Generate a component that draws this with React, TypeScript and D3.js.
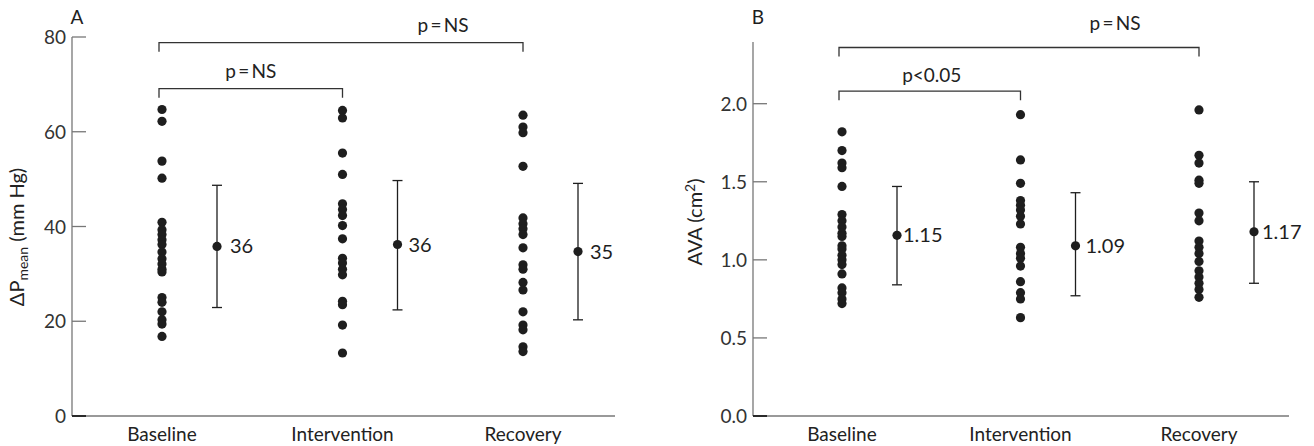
import React from "react";
import * as d3 from "d3";

const width = 1314;
const height = 446;

const categories = ["Baseline", "Intervention", "Recovery"];

// panel A: mean transvalvular gradient (mm Hg)
const gradBaseline = [64.7, 62.2, 53.8, 50.2, 40.9, 39.3, 38.3, 37.2, 36.2, 34.6, 33.2, 32.1, 31.0, 30.4, 25.0, 24.0, 22.0, 20.3, 19.4, 16.8];
const gradIntervention = [64.5, 62.9, 55.5, 51.0, 44.8, 43.6, 42.3, 40.2, 37.4, 33.3, 32.3, 31.0, 29.8, 24.2, 23.5, 19.2, 13.3];
const gradRecovery = [63.5, 61.0, 59.8, 52.7, 41.8, 40.6, 39.5, 38.3, 35.5, 31.9, 31.0, 28.2, 26.6, 22.0, 19.2, 18.2, 14.6, 13.6];
const gradMean = [35.8, 36.2, 34.7];
const gradLow = [22.9, 22.4, 20.3];
const gradHigh = [48.7, 49.7, 49.1];
const gradMeanLabels = ["36", "36", "35"];
const gradTicks = [0, 20, 40, 60, 80];

// panel B: aortic valve area (cm2)
const avaBaseline = [1.82, 1.7, 1.62, 1.59, 1.47, 1.29, 1.25, 1.21, 1.17, 1.15, 1.09, 1.07, 1.03, 1.0, 0.97, 0.91, 0.82, 0.79, 0.75, 0.72];
const avaIntervention = [1.93, 1.64, 1.49, 1.38, 1.35, 1.32, 1.28, 1.23, 1.08, 1.04, 1.01, 0.96, 0.86, 0.79, 0.75, 0.63];
const avaRecovery = [1.96, 1.67, 1.62, 1.51, 1.49, 1.3, 1.25, 1.12, 1.08, 1.04, 0.99, 0.93, 0.89, 0.85, 0.81, 0.76];
const avaMean = [1.157, 1.09, 1.18];
const avaLow = [0.84, 0.77, 0.85];
const avaHigh = [1.47, 1.43, 1.5];
const avaMeanLabels = ["1.15", "1.09", "1.17"];
const avaTicks = [0, 0.5, 1.0, 1.5, 2.0];

// significance brackets between categories
const gradBrackets = [
  { from: 0, to: 2, level: 78.8, label: "p\u2009=\u2009NS", labelDy: -11, shift: 102 },
  { from: 0, to: 1, level: 69.1, label: "p\u2009=\u2009NS", labelDy: -11, shift: 0 },
];
const avaBrackets = [
  { from: 0, to: 2, level: 2.36, label: "p\u2009=\u2009NS", labelDy: -17, shift: 96 },
  { from: 0, to: 1, level: 2.08, label: "p<0.05", labelDy: -9, shift: 2 },
];

const font = "'Lato', 'Open Sans', sans-serif";
const ink = "#1e1e1e";
const axisCol = "#777";
const fs = 19;

const yBottom = 416;

function Panel({ letter, axisX, axisEnd, yDomain, yTop, axisTop, dotX, ticks, tickFmt, series, mean, low, high, meanLabels, labelGap, brackets, title }) {
  const y = d3.scaleLinear().domain(yDomain).range([yBottom, yTop]);
  const x = d3.scalePoint().domain(categories).range(dotX);
  const errOff = 55;
  return (
    <g fontFamily={font} fill={ink}>
      <text x={axisX + 5} y={24} fontSize={fs} textAnchor="middle">{letter}</text>
      {/* axes */}
      <line x1={axisX} x2={axisX} y1={axisTop} y2={yBottom} stroke={axisCol} strokeWidth={1.3} />
      <line x1={axisX} x2={axisEnd} y1={yBottom} y2={yBottom} stroke={axisCol} strokeWidth={1.3} />
      {ticks.map((t) => (
        <g key={t}>
          <line x1={axisX} x2={axisX + 14} y1={y(t)} y2={y(t)} stroke={t === 0 ? ink : axisCol} strokeWidth={t === 0 ? 1.8 : 1.3} />
          <text x={axisX - 6} y={y(t) + 7} fontSize={fs} textAnchor="end" fill="#333">{tickFmt(t)}</text>
        </g>
      ))}
      {categories.map((c) => (
        <text key={c} x={x(c)} y={441} fontSize={fs} textAnchor="middle" fill="#222">{c}</text>
      ))}
      {title}
      {/* points */}
      {series.map((vals, i) =>
        vals.map((v, j) => <circle key={i + "-" + j} cx={x(categories[i])} cy={y(v)} r={4.6} fill={ink} />)
      )}
      {/* mean +- sd */}
      {categories.map((c, i) => {
        const ex = x(c) + errOff;
        return (
          <g key={"e" + c}>
            <line x1={ex} x2={ex} y1={y(low[i])} y2={y(high[i])} stroke={ink} strokeWidth={1.3} />
            <line x1={ex - 5} x2={ex + 5} y1={y(low[i])} y2={y(low[i])} stroke={ink} strokeWidth={1.3} />
            <line x1={ex - 5} x2={ex + 5} y1={y(high[i])} y2={y(high[i])} stroke={ink} strokeWidth={1.3} />
            <circle cx={ex} cy={y(mean[i])} r={4.6} fill={ink} />
            <text x={ex + labelGap[i]} y={y(mean[i]) + 7} fontSize={20}>{meanLabels[i]}</text>
          </g>
        );
      })}
      {/* significance brackets */}
      {brackets.map((b, i) => {
        const x1 = x(categories[b.from]) - 3;
        const x2 = x(categories[b.to]);
        const by = y(b.level);
        return (
          <g key={"b" + i}>
            <path d={`M${x1},${by + 9}V${by}H${x2}V${by + 9}`} fill="none" stroke="#333" strokeWidth={1.3} />
            <text x={(x1 + x2) / 2 + b.shift} y={by + b.labelDy} fontSize={fs} textAnchor="middle" fill="#222">{b.label}</text>
          </g>
        );
      })}
    </g>
  );
}

export default function App() {
  return (
    <svg width={width} height={height} style={{ display: "block", position: "absolute", left: 0, top: 0, background: "#fff" }}>
      <Panel
        letter="A"
        axisX={72}
        axisEnd={615}
        yDomain={[0, 80]}
        yTop={37}
        axisTop={37}
        dotX={[162, 523]}
        ticks={gradTicks}
        tickFmt={(t) => String(t)}
        series={[gradBaseline, gradIntervention, gradRecovery]}
        mean={gradMean}
        low={gradLow}
        high={gradHigh}
        meanLabels={gradMeanLabels}
        labelGap={[13, 11, 12]}
        brackets={gradBrackets}
        title={
          <text transform="translate(24,237) rotate(-90)" fontSize={20} textAnchor="middle" fill="#222">
            ΔP<tspan fontSize={14} dy={4}>mean</tspan>
            <tspan dy={-4}> (mm Hg)</tspan>
          </text>
        }
      />
      <Panel
        letter="B"
        axisX={753}
        axisEnd={1289}
        yDomain={[0, 2]}
        yTop={103.7}
        axisTop={42}
        dotX={[842, 1199]}
        ticks={avaTicks}
        tickFmt={(t) => t.toFixed(1)}
        series={[avaBaseline, avaIntervention, avaRecovery]}
        mean={avaMean}
        low={avaLow}
        high={avaHigh}
        meanLabels={avaMeanLabels}
        labelGap={[6, 10, 8]}
        brackets={avaBrackets}
        title={
          <text transform="translate(702,222) rotate(-90)" fontSize={20} textAnchor="middle" fill="#222">
            AVA (cm<tspan fontSize={14} dy={-7}>2</tspan>
            <tspan dy={7}>)</tspan>
          </text>
        }
      />
    </svg>
  );
}
